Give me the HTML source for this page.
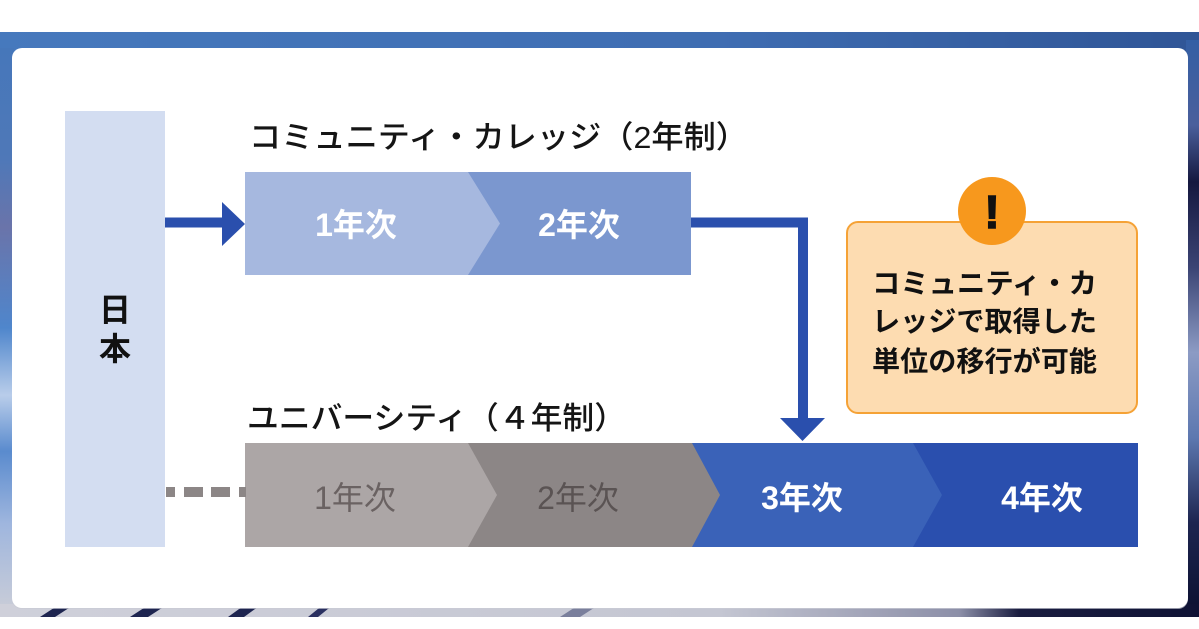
<!DOCTYPE html>
<html>
<head>
<meta charset="utf-8">
<style>
  html,body{margin:0;padding:0;background:#fff;}
  body{width:1199px;height:629px;overflow:hidden;}
  svg{display:block;}
  text{font-family:"Liberation Sans","Noto Sans CJK JP",sans-serif;}
</style>
</head>
<body>
<svg width="1199" height="629" viewBox="0 0 1199 629" xmlns="http://www.w3.org/2000/svg">
  <defs>
    <linearGradient id="gTop" x1="0" y1="0" x2="1" y2="0">
      <stop offset="0" stop-color="#4679bd"/>
      <stop offset="0.6" stop-color="#3f6db2"/>
      <stop offset="1" stop-color="#2f5596"/>
    </linearGradient>
    <linearGradient id="gBase" x1="0" y1="0" x2="0" y2="1">
      <stop offset="0" stop-color="#4678bb"/>
      <stop offset="0.3" stop-color="#6275b0"/>
      <stop offset="0.6" stop-color="#8aa0cf"/>
      <stop offset="0.85" stop-color="#6d86bf"/>
      <stop offset="1" stop-color="#3c4a7a"/>
    </linearGradient>
    <linearGradient id="gLeft" x1="0" y1="0" x2="0" y2="1">
      <stop offset="0" stop-color="#4677ba"/>
      <stop offset="0.2" stop-color="#4f78b8"/>
      <stop offset="0.32" stop-color="#6a74aa"/>
      <stop offset="0.5" stop-color="#4f86cc"/>
      <stop offset="0.62" stop-color="#b9cdea"/>
      <stop offset="0.72" stop-color="#5a8bce"/>
      <stop offset="0.85" stop-color="#9fb6de"/>
      <stop offset="1" stop-color="#c8ccd8"/>
    </linearGradient>
    <linearGradient id="gRight" x1="0" y1="0" x2="0" y2="1">
      <stop offset="0" stop-color="#345fa4"/>
      <stop offset="0.15" stop-color="#4a5f9c"/>
      <stop offset="0.25" stop-color="#15183f"/>
      <stop offset="0.4" stop-color="#3b4474"/>
      <stop offset="0.55" stop-color="#8c9bc4"/>
      <stop offset="0.7" stop-color="#5d78b0"/>
      <stop offset="0.85" stop-color="#1d2550"/>
      <stop offset="1" stop-color="#0d1233"/>
    </linearGradient>
    <linearGradient id="gBottom" x1="0" y1="0" x2="1" y2="0">
      <stop offset="0" stop-color="#cfd0da"/>
      <stop offset="0.6" stop-color="#c4c6d2"/>
      <stop offset="0.8" stop-color="#8c8fa8"/>
      <stop offset="0.85" stop-color="#1a1d40"/>
      <stop offset="1" stop-color="#0f1335"/>
    </linearGradient>
  </defs>

  <!-- background photo approximation -->
  <rect x="0" y="32" width="1199" height="585" fill="url(#gBase)"/>
  <rect x="0" y="32" width="1199" height="20" fill="url(#gTop)"/>
  <rect x="0" y="48" width="14" height="560" fill="url(#gLeft)"/>
  <rect x="1186" y="40" width="13" height="568" fill="url(#gRight)"/>
  <rect x="0" y="604" width="1199" height="13" fill="url(#gBottom)"/>
  <polygon points="40,617 60,604 75,604 55,617" fill="#1e2550"/>
  <polygon points="130,617 150,604 168,604 148,617" fill="#1e2550"/>
  <polygon points="228,617 246,604 262,604 244,617" fill="#1e2550"/>
  <polygon points="308,617 324,604 334,604 318,617" fill="#2a3060"/>
  <polygon points="560,617 580,604 600,604 580,617" fill="#7a7f9c"/>

  <!-- card -->
  <rect x="12" y="49" width="1176" height="560" rx="10" fill="#c9cad4" opacity="0.7"/>
  <rect x="12" y="48" width="1176" height="560" rx="10" fill="#ffffff"/>

  <!-- Japan box -->
  <rect x="65" y="111" width="100" height="436" fill="#d3ddf1"/>
  <text x="115" y="321" font-size="32" font-weight="bold" fill="#111" text-anchor="middle">日</text>
  <text x="115" y="360" font-size="32" font-weight="bold" fill="#111" text-anchor="middle">本</text>

  <!-- Titles -->
  <text x="249" y="148" font-size="31" font-weight="500" fill="#151515" textLength="499" lengthAdjust="spacingAndGlyphs">コミュニティ・カレッジ（2年制）</text>
  <text x="247" y="429" font-size="31" font-weight="500" fill="#151515" textLength="379" lengthAdjust="spacingAndGlyphs">ユニバーシティ（４年制）</text>

  <!-- Community college bar -->
  <rect x="468" y="172" width="223" height="103" fill="#7b97cf"/>
  <polygon points="245,172 468,172 500,223.5 468,275 245,275" fill="#a6b8df"/>
  <text x="356" y="236" font-size="32" font-weight="bold" fill="#ffffff" text-anchor="middle">1年次</text>
  <text x="579" y="236" font-size="32" font-weight="bold" fill="#ffffff" text-anchor="middle">2年次</text>

  <!-- University bar -->
  <rect x="913" y="443" width="225" height="104" fill="#2a4fae"/>
  <polygon points="692,443 913,443 942,495 913,547 692,547" fill="#3a62b8"/>
  <polygon points="468,443 692,443 720,495 692,547 468,547" fill="#8c8686"/>
  <polygon points="245,443 468,443 497,495 468,547 245,547" fill="#aca6a6"/>
  <text x="355" y="509" font-size="32" font-weight="normal" fill="#6a6262" text-anchor="middle">1年次</text>
  <text x="578" y="509" font-size="32" font-weight="normal" fill="#5a5353" text-anchor="middle">2年次</text>
  <text x="802" y="509" font-size="32" font-weight="bold" fill="#ffffff" text-anchor="middle">3年次</text>
  <text x="1042" y="509" font-size="32" font-weight="bold" fill="#ffffff" text-anchor="middle">4年次</text>

  <!-- Arrow Japan -> CC -->
  <rect x="165" y="217.5" width="58" height="10" fill="#2a4fad"/>
  <polygon points="222,202 245,224 222,246" fill="#2a4fad"/>

  <!-- Connector 2年次 -> 3年次 -->
  <path d="M691 222.5 H803 V420" fill="none" stroke="#2a4fad" stroke-width="10" stroke-linejoin="miter"/>
  <polygon points="780,418 825,418 802.5,441" fill="#2a4fad"/>

  <!-- Dashed connector -->
  <rect x="166" y="487" width="9" height="10" fill="#8c8686"/>
  <rect x="184" y="487" width="19" height="10" fill="#8c8686"/>
  <rect x="211" y="487" width="19" height="10" fill="#8c8686"/>
  <rect x="239" y="487" width="7" height="10" fill="#8c8686"/>

  <!-- Note box -->
  <rect x="847" y="222" width="290" height="191" rx="11" fill="#fddcb1" stroke="#f5a236" stroke-width="2"/>
  <circle cx="992" cy="211" r="34" fill="#f7981d"/>
  <text x="992" y="228" font-size="46" font-weight="bold" fill="#111" stroke="#111" stroke-width="1.5" text-anchor="middle">!</text>
  <text x="872" y="293" font-size="28" font-weight="bold" fill="#111" textLength="225" lengthAdjust="spacingAndGlyphs">コミュニティ・カ</text>
  <text x="872" y="331" font-size="28" font-weight="bold" fill="#111" textLength="225" lengthAdjust="spacingAndGlyphs">レッジで取得した</text>
  <text x="872" y="371" font-size="28" font-weight="bold" fill="#111" textLength="225" lengthAdjust="spacingAndGlyphs">単位の移行が可能</text>
</svg>
</body>
</html>
